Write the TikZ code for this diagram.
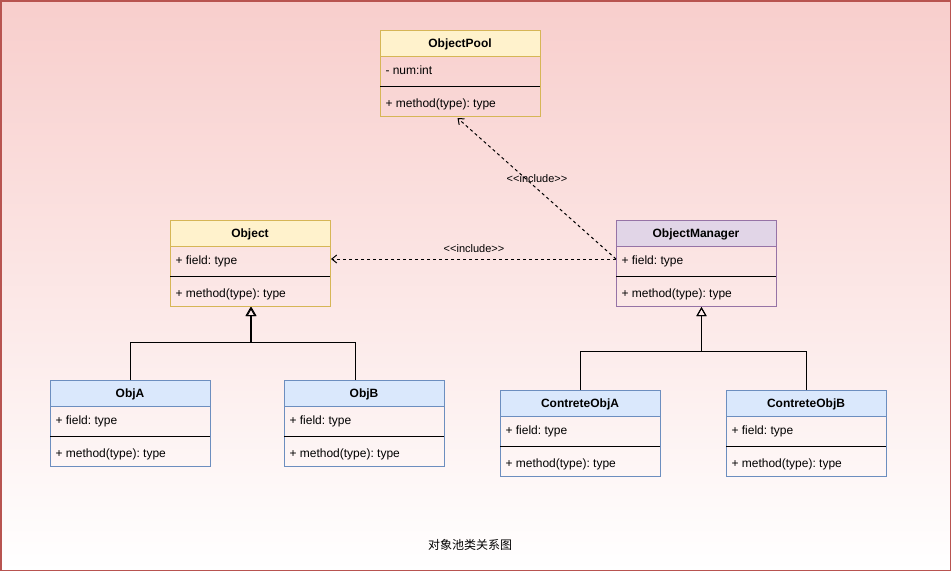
\documentclass[tikz,border=0pt]{standalone}
\usepackage{fontspec}
\setmainfont{Liberation Sans}
\newfontfamily\cjkfont{Noto Sans CJK SC}
\usetikzlibrary{arrows.meta,calc}
\frenchspacing
\definecolor{bgtop}{HTML}{F8CECC}
\definecolor{bgline}{HTML}{B85450}
\definecolor{yfill}{HTML}{FFF2CC}
\definecolor{ystroke}{HTML}{D6B656}
\definecolor{pfill}{HTML}{E1D5E7}
\definecolor{pstroke}{HTML}{9673A6}
\definecolor{bfill}{HTML}{DAE8FC}
\definecolor{bstroke}{HTML}{6C8EBF}
\newcommand\umlcls[8]{%
  \fill[#7] (#2,#3) rectangle ++(160,26);
  \node[draw=#8, minimum width=160pt, minimum height=86pt, anchor=north west, inner sep=0pt] (#1) at (#2,#3) {};
  \draw[#8] (#2,#3+26) -- ++(160,0);
  \node[font=\fontsize{12}{14}\selectfont\bfseries, anchor=base] (#1-t) at (#2+80,#3+17.5) {#4};
  \node[txt] (#1-f) at (#2+5,#3+44.5) {#5};
  \draw[black] (#2,#3+56) -- ++(160,0);
  \node[txt] (#1-m) at (#2+5,#3+77.5) {#6};
}
\tikzset{
  txt/.style={anchor=base west, inner sep=0pt, font=\fontsize{12}{14}\selectfont},
  lbl/.style={inner sep=0pt, font=\fontsize{11}{13}\selectfont},
  dep/.style={dash pattern=on 3pt off 3pt, -{Straight Barb[length=5pt,width=8pt]}},
  inh/.style={-{Triangle[open,length=9pt,width=10pt]}},
}
\begin{document}
\begin{tikzpicture}[x=1pt,y=-1pt,line width=1pt]
\useasboundingbox (0,0) rectangle (951,571);
\shade[top color=bgtop, bottom color=white] (0,0) rectangle (951,571);
\draw[bgline, line width=1.5pt] (0.75,0.75) rectangle (950.25,570.25);

\umlcls{pool}{380}{30}{ObjectPool}{- num:int}{+ method(type): type}{yfill}{ystroke}
\umlcls{object}{170}{220}{Object}{+ field: type}{+ method(type): type}{yfill}{ystroke}
\umlcls{mgr}{616}{220}{ObjectManager}{+ field: type}{+ method(type): type}{pfill}{pstroke}
\umlcls{objA}{50}{380}{ObjA}{+ field: type}{+ method(type): type}{bfill}{bstroke}
\umlcls{objB}{284}{380}{ObjB}{+ field: type}{+ method(type): type}{bfill}{bstroke}
\umlcls{cA}{500}{390}{ContreteObjA}{+ field: type}{+ method(type): type}{bfill}{bstroke}
\umlcls{cB}{726}{390}{ContreteObjB}{+ field: type}{+ method(type): type}{bfill}{bstroke}

% dependencies
\coordinate (mgrL) at ($(mgr.north west)+(0,39)$);
\draw[dep] (mgrL) -- ($(object.north east)+(0,39)$);
\draw[dep] (mgrL) -- ($(pool.south)+(-3,1)$);
\node[lbl] (l1) at (474,249) {<\kern0pt<include>\kern0pt>};
\node[lbl] (l2) at (537,179) {<\kern0pt<include>\kern0pt>};

% inheritance
\draw[inh] (objA.north) |- ($(object.south)+(0,35)$) -- (object.south);
\draw[inh] ($(objB.north)+(-9,0)$) |- ($(object.south)+(1,35)$) -- ($(object.south)+(1,0)$);
\draw[inh] (cA.north) |- ($(mgr.south)+(5,44)$) -- ($(mgr.south)+(5,0)$);
\draw[inh] (cB.north) |- ($(mgr.south)+(5,44)$) -- ($(mgr.south)+(5,0)$);

\node[font=\cjkfont\fontsize{12}{14}\selectfont] (cap) at (470,545) {对象池类关系图};
\end{tikzpicture}
\end{document}
